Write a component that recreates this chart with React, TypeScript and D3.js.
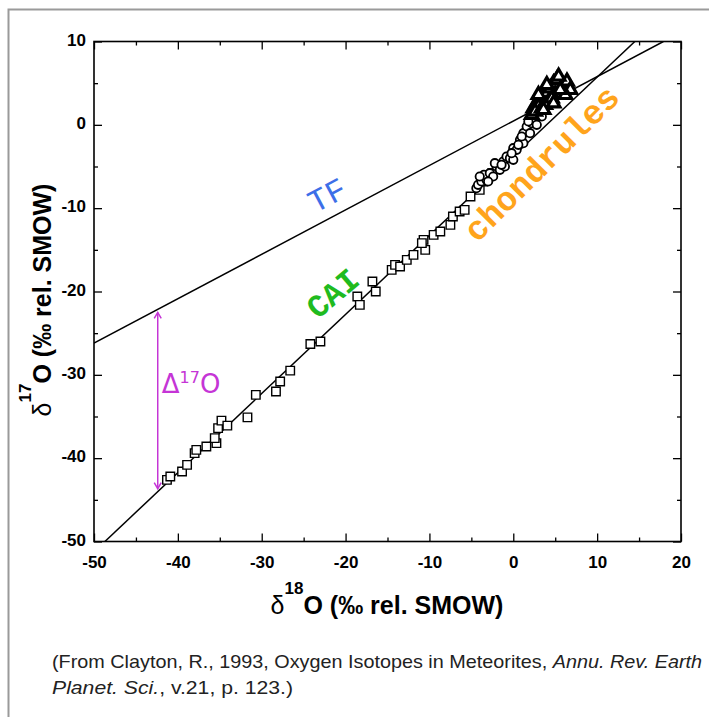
import { useEffect, useRef } from "react";
import * as d3 from "d3";

// axis ticks
const xTicks = [-50, -40, -30, -20, -10, 0, 10, 20];
const yTicks = [-50, -40, -30, -20, -10, 0, 10];
const xMinor = [-45, -35, -25, -15, -5, 5, 15];
const yMinor = [-45, -35, -25, -15, -5, 5];

// terrestrial fractionation line (TF) and CAI mixing line, end points
const tfX = [-50, 17.9];
const tfY = [-26.2, 10];
const caiLineX = [-48.7, 14.5];
const caiLineY = [-50, 10];

// CAI (open squares)
const caiX = [-41.3, -40.9, -39.5, -38.9, -38.0, -37.8, -36.6, -35.4, -35.6, -35.2, -34.8, -34.1, -31.7,
  -30.7, -28.3, -27.8, -26.6, -24.2, -23.0, -18.6, -18.3, -16.8, -16.4, -14.5, -14.1, -13.5, -12.7,
  -11.9, -10.7, -10.5, -10.9, -9.5, -8.7, -7.5, -7.2, -6.4, -5.8, -5.1, -4.0, -3.6, -3.0, -2.5];
const caiY = [-42.6, -42.2, -41.6, -40.8, -39.4, -39.0, -38.6, -38.2, -37.6, -36.4, -35.5, -36.1, -35.1,
  -32.4, -32.0, -30.8, -29.5, -26.3, -26.0, -20.6, -21.6, -18.8, -20.0, -17.4, -16.8, -17.0, -16.2,
  -15.6, -13.8, -15.0, -14.2, -13.2, -12.8, -12.0, -11.0, -10.4, -10.2, -8.6, -7.8, -6.8, -6.4, -5.8];

// chondrules (open circles)
const chX = [-4.4, -4.2, -3.8, -3.2, -3.5, -2.8, -2.0, -1.6, -1.2, -0.8, -0.4, 0.0, 0.0, 0.4, 0.8, 1.2, 1.2,
  1.6, 2.0, 2.2, 2.6, 3.0, 2.6, 3.4, -2.4, -1.0, -3.0, -2.2, -0.2, 1.0, 1.8, 2.8, -4.0, -1.4, 0.6];
const chY = [-7.6, -7.2, -6.8, -6.6, -6.0, -5.8, -5.0, -5.4, -4.4, -3.8, -4.0, -4.2, -2.8, -3.0, -1.8, -2.2, -1.0,
  -0.2, -1.0, 0.2, 0.6, 1.8, 1.4, 1.0, -6.2, -5.0, -6.8, -4.6, -3.4, -1.4, 0.4, 0.0, -6.2, -4.8, -2.4];

// chondrules, upper cluster (triangles)
const triX = [2.4, 2.8, 3.2, 3.0, 3.6, 4.0, 4.4, 4.8, 5.2, 6.0, 6.4, 5.0, 4.2, 3.8, 2.2, 6.8, 5.4,
  2.6, 3.4, 4.6, 5.8, 4.0, 3.0, 6.2, 4.8, 3.6, 5.6];
const triY = [2.0, 2.6, 3.0, 2.2, 3.4, 3.8, 4.4, 5.0, 5.4, 4.6, 5.2, 3.6, 2.8, 2.4, 1.2, 4.2, 5.8,
  1.6, 2.0, 3.2, 3.8, 4.8, 3.6, 3.6, 2.6, 1.8, 4.2];

const deltaX = -42.4;

function App() {
  const ref = useRef(null);

  useEffect(() => {
    const svg = d3.select(ref.current);
    svg.selectAll("*").remove();

    const left = 94, right = 681, top = 41.5, bottom = 541.5;
    const x = d3.scaleLinear().domain([-50, 20]).range([left, right]);
    const y = d3.scaleLinear().domain([-50, 10]).range([bottom, top]);

    // page frame
    svg.append("path")
      .attr("d", "M8.5,717 L8.5,9.5 L709,9.5")
      .attr("fill", "none")
      .attr("stroke", "#9a9a9a")
      .attr("stroke-width", 2);

    svg.append("clipPath").attr("id", "plot-clip")
      .append("rect")
      .attr("x", left).attr("y", top)
      .attr("width", right - left).attr("height", bottom - top);

    const font = "'Liberation Sans', Arial, Helvetica, sans-serif";
    const fmt = d => String(d);

    // axes (ticks inside)
    const addAxis = (axis, tr, cls) => {
      const g = svg.append("g").attr("class", cls).attr("transform", tr).call(axis);
      g.select(".domain").remove();
      g.selectAll("line").attr("stroke", "#000").attr("stroke-width", 1.3);
      g.selectAll("text")
        .attr("font-family", font)
        .attr("font-weight", "bold")
        .attr("font-size", "17px")
        .attr("fill", "#000");
      return g;
    };

    addAxis(d3.axisBottom(x).tickValues(xTicks).tickSize(-8).tickPadding(14).tickFormat(fmt),
      `translate(0,${bottom})`, "x-axis");
    addAxis(d3.axisBottom(x).tickValues(xMinor).tickSize(-4).tickFormat(() => ""),
      `translate(0,${bottom})`, "x-minor");
    addAxis(d3.axisTop(x).tickValues(xTicks).tickSize(-8).tickFormat(() => ""),
      `translate(0,${top})`, "x-top");
    addAxis(d3.axisTop(x).tickValues(xMinor).tickSize(-4).tickFormat(() => ""),
      `translate(0,${top})`, "x-top-minor");
    const yg = addAxis(d3.axisLeft(y).tickValues(yTicks).tickSize(-8).tickPadding(8).tickFormat(fmt),
      `translate(${left},0)`, "y-axis");
    yg.selectAll("text").attr("dy", "0.22em");
    addAxis(d3.axisLeft(y).tickValues(yMinor).tickSize(-4).tickFormat(() => ""),
      `translate(${left},0)`, "y-minor");
    addAxis(d3.axisRight(y).tickValues(yTicks).tickSize(-8).tickFormat(() => ""),
      `translate(${right},0)`, "y-right");
    addAxis(d3.axisRight(y).tickValues(yMinor).tickSize(-4).tickFormat(() => ""),
      `translate(${right},0)`, "y-right-minor");

    svg.append("rect")
      .attr("x", left).attr("y", top)
      .attr("width", right - left).attr("height", bottom - top)
      .attr("fill", "none")
      .attr("stroke", "#000")
      .attr("stroke-width", 1.6);

    // lines
    const line = d3.line().x(d => x(d[0])).y(d => y(d[1]));
    const plot = svg.append("g").attr("clip-path", "url(#plot-clip)");
    plot.append("path")
      .attr("d", line(d3.zip(tfX, tfY)))
      .attr("fill", "none").attr("stroke", "#000").attr("stroke-width", 1.5);
    plot.append("path")
      .attr("d", line(d3.zip(caiLineX, caiLineY)))
      .attr("fill", "none").attr("stroke", "#000").attr("stroke-width", 1.5);

    // symbols
    const sq = d3.symbol().type(d3.symbolSquare).size(72);
    plot.selectAll(".cai")
      .data(d3.zip(caiX, caiY))
      .join("path")
      .attr("class", "cai")
      .attr("d", sq)
      .attr("transform", d => `translate(${x(d[0])},${y(d[1])})`)
      .attr("fill", "#fff").attr("stroke", "#000").attr("stroke-width", 1.4);

    const circ = d3.symbol().type(d3.symbolCircle).size(55);
    plot.selectAll(".chond")
      .data(d3.zip(chX, chY))
      .join("path")
      .attr("class", "chond")
      .attr("d", circ)
      .attr("transform", d => `translate(${x(d[0])},${y(d[1])})`)
      .attr("fill", "#fff").attr("stroke", "#000").attr("stroke-width", 1.8);

    const tri = d3.symbol().type(d3.symbolTriangle).size(70);
    plot.selectAll(".tri")
      .data(d3.zip(triX, triY))
      .join("path")
      .attr("class", "tri")
      .attr("d", tri)
      .attr("transform", d => `translate(${x(d[0])},${y(d[1])})`)
      .attr("fill", "#fff").attr("stroke", "#000").attr("stroke-width", 3.2);

    // Δ17O arrow
    const lerp = (xs, ys, v) => ys[0] + (v - xs[0]) * (ys[1] - ys[0]) / (xs[1] - xs[0]);
    const purple = "#c535d6";
    const ax = x(deltaX);
    const ay1 = y(lerp(tfX, tfY, deltaX)) + 3;
    const ay2 = y(lerp(caiLineX, caiLineY, deltaX)) - 3;
    const arrow = svg.append("g").attr("stroke", purple).attr("fill", "none").attr("stroke-width", 1.5);
    arrow.append("line").attr("x1", ax).attr("x2", ax).attr("y1", ay1).attr("y2", ay2);
    arrow.append("path").attr("d", `M${ax - 3.5},${ay1 + 6} L${ax},${ay1} L${ax + 3.5},${ay1 + 6}`);
    arrow.append("path").attr("d", `M${ax - 3.5},${ay2 - 6} L${ax},${ay2} L${ax + 3.5},${ay2 - 6}`);

    const dt = svg.append("text")
      .attr("x", ax + 4).attr("y", 393)
      .attr("font-family", "'DejaVu Sans', sans-serif")
      .attr("font-size", "26px")
      .attr("fill", purple);
    dt.append("tspan").text("Δ");
    dt.append("tspan").attr("font-size", "16px").attr("dy", "-10").text("17");
    dt.append("tspan").attr("dy", "10").text("O");

    // labels on the plot
    const mono = "'Liberation Mono', 'Courier New', monospace";
    const label = (txt, cx, cy, ang, color, size, weight) => {
      svg.append("text")
        .attr("transform", `translate(${cx},${cy}) rotate(${ang})`)
        .attr("text-anchor", "middle")
        .attr("dominant-baseline", "central")
        .attr("font-family", mono)
        .attr("font-size", size)
        .attr("font-weight", weight)
        .attr("fill", color)
        .text(txt);
    };
    label("TF", 328, 197, -28, "#3d6fe8", "32px", "normal");
    label("CAI", 334, 295, -40, "#1fbb1f", "32px", "bold");
    label("chondrules", 543, 165, -45, "#ffa41c", "34px", "bold");

    // axis titles
    const xt = svg.append("text")
      .attr("x", 387).attr("y", 614)
      .attr("text-anchor", "middle")
      .attr("font-family", font)
      .attr("font-weight", "bold")
      .attr("font-size", "25px");
    xt.append("tspan").attr("font-weight", "normal").text("δ");
    xt.append("tspan").attr("font-size", "17px").attr("dy", "-20").text("18");
    xt.append("tspan").attr("dy", "20").text("O (‰ rel. SMOW)");

    const yt = svg.append("text")
      .attr("transform", "translate(51,300) rotate(-90)")
      .attr("text-anchor", "middle")
      .attr("font-family", font)
      .attr("font-weight", "bold")
      .attr("font-size", "25px");
    yt.append("tspan").attr("font-weight", "normal").text("δ");
    yt.append("tspan").attr("font-size", "17px").attr("dy", "-20").text("17");
    yt.append("tspan").attr("dy", "20").text("O (‰ rel. SMOW)");

    // caption
    const cap1 = svg.append("text")
      .attr("x", 52).attr("y", 668)
      .attr("font-family", font)
      .attr("font-size", "19px")
      .attr("textLength", 650)
      .attr("lengthAdjust", "spacingAndGlyphs")
      .attr("fill", "#222");
    cap1.append("tspan").text("(From Clayton, R., 1993, Oxygen Isotopes in Meteorites, ");
    cap1.append("tspan").attr("font-style", "italic").text("Annu. Rev. Earth");
    const cap2 = svg.append("text")
      .attr("x", 52).attr("y", 694)
      .attr("font-family", font)
      .attr("font-size", "19px")
      .attr("textLength", 241)
      .attr("lengthAdjust", "spacingAndGlyphs")
      .attr("fill", "#222");
    cap2.append("tspan").attr("font-style", "italic").text("Planet. Sci.");
    cap2.append("tspan").text(", v.21, p. 123.)");
  }, []);

  return (
    <svg ref={ref} width={709} height={717}
      style={{ position: "absolute", left: 0, top: 0, background: "#fff" }} />
  );
}

export default App;
